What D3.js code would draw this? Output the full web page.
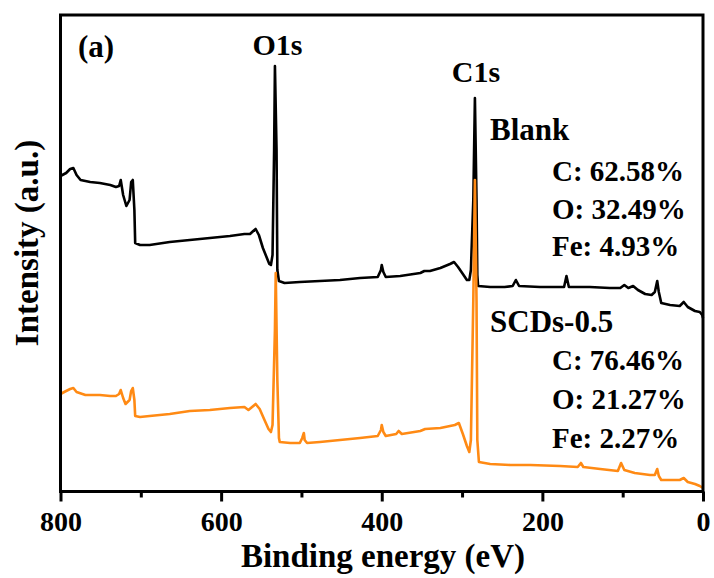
<!DOCTYPE html>
<html>
<head>
<meta charset="utf-8">
<script src="https://cdn.jsdelivr.net/npm/d3@7"></script>
<style>
  body { margin: 0; background: #fff; }
  svg text { font-family: "Liberation Serif", "Times New Roman", serif; font-weight: bold; fill: #000; }
</style>
</head>
<body>
<div id="chart"></div>
<script>
// binding energy (eV) and intensity (a.u.)
var blankBE = [800,793,788,784,780,775,763,751,738,731,727,725,722,718,714,712,710,708,707,701,689,664,639,614,589,571,564,560,557,553,548,543,540,538,536,534,533,531,530,528,521,502,477,452,427,405,401,400,398,395,377,352,347,340,327,315,310,305,299,294,291,289,286,284,282,281,280,265,247,237,233,229,203,173,170,167,141,116,103,98,93,87,81,72,64,60,57,55,52,41,29,24,19,10,4,1,0];
var blankI  = [63.1,63.7,64.5,64.7,63.3,62.3,61.9,61.7,61.3,60.9,61.1,62.3,59.3,57.1,58.3,61.9,62.3,56.3,49.7,49.3,49.3,49.9,50.3,50.7,51.1,51.5,51.5,52.1,52.5,51.3,48.7,46.7,45.5,45.3,47.3,68.3,85.1,68.3,44.3,42.1,41.7,41.9,42.1,42.3,42.7,42.9,44.3,45.3,43.9,42.9,43.1,43.7,44.1,44.1,44.7,45.5,45.9,44.9,43.5,42.3,42.3,44.3,58.3,78.7,58.3,43.3,41.1,40.9,40.9,41.1,42.3,41.1,40.9,40.9,43.1,40.9,40.9,40.7,40.7,41.3,40.7,41.1,40.3,39.5,39.3,39.9,42.1,39.9,37.7,37.3,37.1,37.9,36.9,36.1,35.9,35.3,34.7];

var scdBE = [800,793,788,784,780,769,751,738,731,727,725,722,719,714,712,710,708,707,701,689,664,639,614,589,571,566,557,552,546,541,538,536,533,532,530,528,527,514,502,499,497,496,493,477,452,427,405,401,400,398,395,382,379,375,352,346,327,309,304,299,294,291,289,286,284,282,281,279,265,240,215,178,156,152,149,128,106,102,98,85,66,60,57,55,52,41,29,24,19,10,4,0];
var scdI  = [19.5,20.1,20.5,20.7,19.9,19.3,19.3,19.1,19.1,19.5,20.3,18.7,17.5,18.3,20.1,20.7,18.3,15.1,14.9,15.1,15.5,16.1,16.3,16.7,16.9,16.3,17.5,16.5,14.3,12.5,11.9,13.3,32.3,43.7,22.3,10.7,9.9,9.7,9.7,10.7,11.7,10.3,9.7,9.9,10.3,10.7,11.1,12.3,13.3,11.9,11.1,11.5,12.1,11.5,12.1,12.5,12.7,13.3,13.7,11.5,9.1,7.9,10.3,38.3,62.3,38.3,10.3,5.9,5.5,5.3,5.3,5.1,4.9,5.7,4.9,4.5,4.1,5.7,4.3,3.7,3.3,3.3,4.5,3.1,2.3,2.3,2.3,2.7,1.9,1.5,1.1,0.7];

var majorTicks = [800,600,400,200,0];
var minorTicks = [700,500,300,100];
var peakNames = ["O1s","C1s"];
var peakBE = [531,284];
var blankComp = ["C: 62.58%","O: 32.49%","Fe: 4.93%"];
var scdComp = ["C: 76.46%","O: 21.27%","Fe: 2.27%"];

var svgContainer = d3.select("#chart")
                        .append("svg")
                        .attr("width", 714)
                        .attr("height", 578);

// plot box (window.top is reserved, so prefixed names)
var plotL = 60.5, plotR = 703, plotT = 15, plotB = 491.5;

var x = d3.scaleLinear().domain([800, 0]).range([plotL, plotR]);
var y = d3.scaleLinear().domain([0, 95.3]).range([plotB, plotT]);

var line = d3.line()
             .x(function(d){ return x(d[0]); })
             .y(function(d){ return y(d[1]); });

//black = blank sample, orange = SCDs-0.5, orange drawn on top
svgContainer.append("path")
            .datum(d3.zip(blankBE, blankI))
            .attr("d", line)
            .attr("fill", "none")
            .attr("stroke", "#000")
            .attr("stroke-width", 2.6)
            .attr("stroke-linejoin", "round");

svgContainer.append("path")
            .datum(d3.zip(scdBE, scdI))
            .attr("d", line)
            .attr("fill", "none")
            .attr("stroke", "#ff8a14")
            .attr("stroke-width", 2.6)
            .attr("stroke-linejoin", "round");

//frame
svgContainer.append("rect")
            .attr("x", plotL)
            .attr("y", plotT)
            .attr("width", plotR - plotL)
            .attr("height", plotB - plotT)
            .attr("fill", "none")
            .attr("stroke", "#000")
            .attr("stroke-width", 3);

//bottom axis, majors with labels and minors without
var xAxis = svgContainer.append("g")
            .attr("transform", "translate(0," + plotB + ")")
            .call(d3.axisBottom(x).tickValues(majorTicks).tickSize(10).tickPadding(10).tickFormat(d3.format("d")));
xAxis.select(".domain").remove();
xAxis.selectAll("line").attr("stroke-width", 3);
xAxis.selectAll("text").style("font-size", "28px").attr("font-family", null);

var xMinor = svgContainer.append("g")
            .attr("transform", "translate(0," + plotB + ")")
            .call(d3.axisBottom(x).tickValues(minorTicks).tickSize(6).tickFormat(""));
xMinor.select(".domain").remove();
xMinor.selectAll("line").attr("stroke-width", 3);

//axis titles
svgContainer.append("text")
            .attr("x", 383)
            .attr("y", 567)
            .attr("text-anchor", "middle")
            .style("font-size", "33px")
            .text("Binding energy (eV)");

svgContainer.append("text")
            .attr("transform", "translate(38,243) rotate(-90)")
            .attr("text-anchor", "middle")
            .style("font-size", "33px")
            .text("Intensity (a.u.)");

svgContainer.append("text")
            .attr("x", 78)
            .attr("y", 57)
            .style("font-size", "31px")
            .text("(a)");

//peak labels
svgContainer.selectAll(".peak")
            .data(peakNames)
            .enter().append("text")
            .attr("class", "peak")
            .attr("x", function(d, i){ return x(peakBE[i]) + 1; })
            .attr("y", function(d, i){ return i == 0 ? 55 : 82; })
            .attr("text-anchor", "middle")
            .style("font-size", "30px")
            .text(function(d){ return d; });

//sample names and compositions
svgContainer.append("text").attr("x", 490).attr("y", 140).style("font-size", "31px").text("Blank");
svgContainer.append("text").attr("x", 490).attr("y", 332).style("font-size", "31px").text("SCDs-0.5");

svgContainer.selectAll(".blankComp")
            .data(blankComp)
            .enter().append("text")
            .attr("class", "blankComp")
            .attr("x", 552)
            .attr("y", function(d, i){ return 181 + i * 37.5; })
            .style("font-size", "29px")
            .text(function(d){ return d; });

svgContainer.selectAll(".scdComp")
            .data(scdComp)
            .enter().append("text")
            .attr("class", "scdComp")
            .attr("x", 552)
            .attr("y", function(d, i){ return 370 + i * 39; })
            .style("font-size", "29px")
            .text(function(d){ return d; });
</script>
</body>
</html>
